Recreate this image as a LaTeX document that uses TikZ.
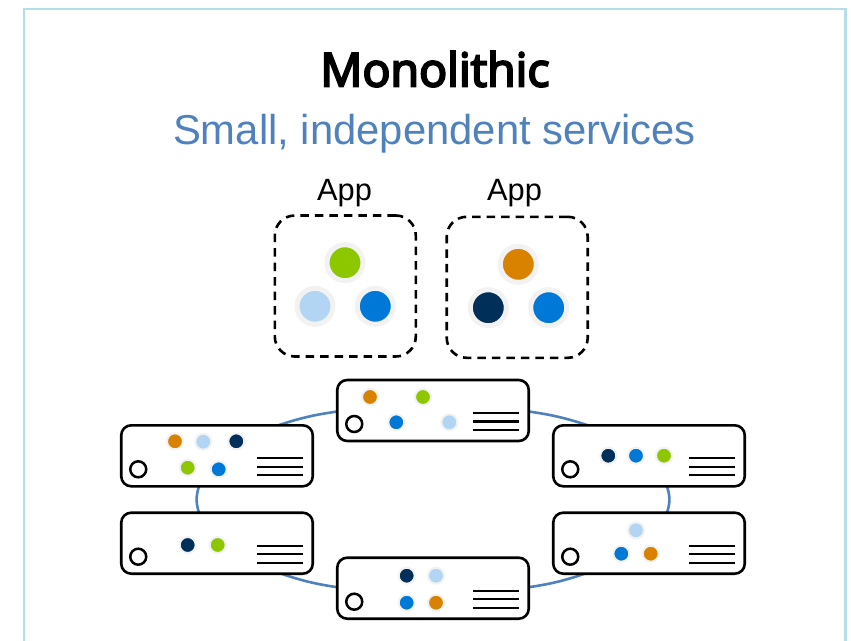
\documentclass[tikz,border=0pt]{standalone}
\usepackage{fontspec}
\setmainfont{Liberation Sans}
\newfontfamily\ttlfont[FakeBold=4.5]{Open Sans}
\usetikzlibrary{backgrounds,calc}
\definecolor{cGreen}{HTML}{8CC700}
\definecolor{cLight}{HTML}{B1D5F2}
\definecolor{cBlue}{HTML}{0078D7}
\definecolor{cNavy}{HTML}{002F5A}
\definecolor{cOrange}{HTML}{D98200}
\definecolor{cHalo}{HTML}{F2F2F2}
\definecolor{cFrame}{HTML}{B5DDE8}
\definecolor{cLink}{HTML}{4F81BD}
\tikzset{
  x=1pt,y=-1pt,
  server/.style={draw=black,line width=2.6pt,rounded corners=10pt,fill=white,minimum width=191.5pt,minimum height=61pt,inner sep=0pt,outer sep=0pt},
  appbox/.style={draw=black,line width=2.6pt,dash pattern=on 8.5pt off 6pt,rounded corners=20pt,minimum width=141pt,minimum height=141pt,inner sep=0pt},
  big/.style={circle,fill=#1,draw=cHalo,line width=5pt,minimum size=36pt,inner sep=0pt,outer sep=0pt},
  dot/.style={circle,fill=#1,draw=cHalo,line width=2pt,minimum size=16pt,inner sep=0pt,outer sep=0pt},
  link/.style={draw=cLink,line width=2.6pt},
  lbl/.style={inner sep=0pt,font=\fontsize{30.8}{33}\selectfont}
}
\newcommand{\srvdeco}[1]{%
  \node[circle,draw=black,line width=2.5pt,fill=white,minimum size=16pt,inner sep=0pt] (#1c) at ($(#1.north west)+(17,44)$) {};
  \coordinate (#1a) at ($(#1.north west)+(136,33)$);
  \coordinate (#1b) at ($(#1.north west)+(181.5,33)$);
  \draw[line width=2.3pt] (#1a) -- (#1b);
  \draw[line width=2.3pt] ($(#1a)+(0,8.5)$) -- ($(#1b)+(0,8.5)$);
  \draw[line width=2.3pt] ($(#1a)+(0,17)$) -- ($(#1b)+(0,17)$);
}
\begin{document}
\begin{tikzpicture}
\useasboundingbox (0,0) rectangle (851,640);
\coordinate (fa) at (24,645);
\coordinate (fb) at (24,9);
\coordinate (fc) at (845.5,9);
\coordinate (fd) at (845.5,645);
\draw[cFrame,line width=2.8pt] (fa) -- (fb) -- (fc) -- (fd);

\node[inner sep=0pt,font=\ttlfont\fontsize{46.5}{50}\selectfont] (title) at (435,69) {Monolithic};
\node[inner sep=0pt,text=cLink,font=\fontsize{41.8}{46}\selectfont] (sub) at (434.5,134) {Small, independent services};
\node[lbl] (app1) at (344.5,193) {App};
\node[lbl] (app2) at (514.5,193) {App};

\node[appbox] (b1) at (345.3,286) {};
\node[appbox] (b2) at (517.2,287.3) {};
\node[big=cGreen] (g1) at (345,262.7) {};
\node[big=cLight] (l1) at (315,306.3) {};
\node[big=cBlue] (u1) at (375.3,306.3) {};
\node[big=cOrange] (o2) at (518.3,264.3) {};
\node[big=cNavy] (n2) at (488.3,307.7) {};
\node[big=cBlue] (u2) at (548.7,307.7) {};

\node[server] (st) at (433,410.5) {};
\node[server] (sb) at (433,588.2) {};
\node[server] (lt) at (217,455.8) {};
\node[server] (lb) at (217,543.2) {};
\node[server] (rt) at (649,455.8) {};
\node[server] (rb) at (649,543.2) {};
\srvdeco{st}\srvdeco{sb}\srvdeco{lt}\srvdeco{lb}\srvdeco{rt}\srvdeco{rb}

\begin{scope}[on background layer]
\draw[link] ([yshift=-1]st.west) to[bend right=5] ([xshift=157]lt.north west);
\draw[link] ([xshift=-18]lt.south) to[bend right=18] ([xshift=-18]lb.north);
\draw[link] ([xshift=160]lb.south west) to[bend right=5] ([yshift=1]sb.west);
\draw[link] ([yshift=1]sb.east) to[bend right=5] ([xshift=-160]rb.south east);
\draw[link] ([xshift=18]rb.north) to[bend right=18] ([xshift=18]rt.south);
\draw[link] ([xshift=-157]rt.north east) to[bend right=5] ([yshift=-1]st.east);
\end{scope}

\node[dot=cOrange] (d1) at (175,441.3) {};
\node[dot=cLight] (d2) at (203.3,441.7) {};
\node[dot=cNavy] (d3) at (236.3,441.3) {};
\node[dot=cGreen] (d4) at (187.7,467.7) {};
\node[dot=cBlue] (d5) at (218.7,469.3) {};
\node[dot=cNavy] (d6) at (187.7,545) {};
\node[dot=cGreen] (d7) at (217.7,545) {};
\node[dot=cOrange] (d8) at (370,397) {};
\node[dot=cGreen] (d9) at (423,397) {};
\node[dot=cBlue] (d10) at (396.3,422.3) {};
\node[dot=cLight] (d11) at (449.3,422.3) {};
\node[dot=cNavy] (d12) at (406.7,575.7) {};
\node[dot=cLight] (d13) at (436,575.7) {};
\node[dot=cBlue] (d14) at (406.7,602.7) {};
\node[dot=cOrange] (d15) at (436,602.7) {};
\node[dot=cNavy] (d16) at (608.3,455.7) {};
\node[dot=cBlue] (d17) at (636,455.7) {};
\node[dot=cGreen] (d18) at (664,455.7) {};
\node[dot=cLight] (d19) at (636,530.3) {};
\node[dot=cBlue] (d20) at (621.3,553.7) {};
\node[dot=cOrange] (d21) at (650.7,553.7) {};
\end{tikzpicture}
\end{document}
